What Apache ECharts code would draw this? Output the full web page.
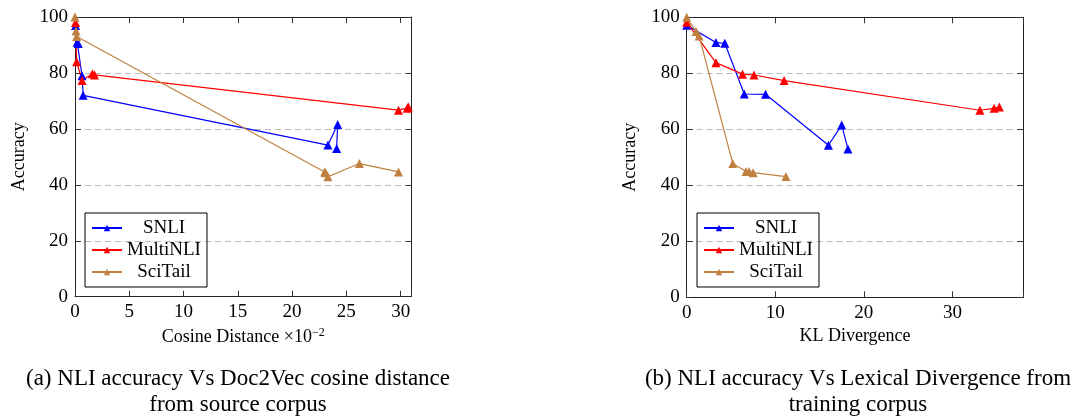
<!DOCTYPE html>
<html>
<head>
<meta charset="utf-8">
<script src="https://cdn.jsdelivr.net/npm/echarts@6/dist/echarts.min.js"></script>
<style>
html,body{margin:0;padding:0;background:#fff;}
#c{width:1082px;height:416px;}
</style>
</head>
<body>
<div id="c"></div>
<script>
// ---- data: left panel (cosine distance x10^-2) ----
const seriesNames = ['SNLI', 'MultiNLI', 'SciTail'];
const snliCos      = [0.05, 0.2, 0.3, 0.65, 0.75, 23.3, 24.2, 24.1];
const snliCosAcc   = [97, 91, 90.5, 79, 72, 54.2, 61.6, 53];
const mnliCos      = [0.05, 0.15, 0.65, 1.6, 1.8, 29.8, 30.6, 30.7];
const mnliCosAcc   = [98, 84, 77.3, 79.7, 79.3, 66.7, 67.4, 67.9];
const sciCos       = [0, 0.1, 0.15, 23.0, 23.1, 23.3, 26.2, 29.8];
const sciCosAcc    = [100, 95, 93, 44.6, 44.3, 42.9, 47.6, 44.6];

// ---- data: right panel (KL divergence) ----
const snliKl       = [0, 3.3, 4.3, 6.5, 8.9, 16.0, 17.5, 18.2];
const snliKlAcc    = [97.2, 91, 90.7, 72.6, 72.5, 54.3, 61.5, 53];
const mnliKl       = [0, 3.3, 6.3, 7.6, 11.0, 33.1, 34.7, 35.3];
const mnliKlAcc    = [98.2, 83.8, 79.7, 79.4, 77.4, 66.8, 67.5, 68.0];
const sciKl        = [0, 1.05, 1.4, 5.2, 6.7, 7.05, 7.5, 11.2];
const sciKlAcc     = [100, 94.9, 93.3, 47.8, 44.9, 44.9, 44.5, 43.1];

// ---- axis ticks ----
const cosTicks = [0, 5, 10, 15, 20, 25, 30];
const klTicks  = [0, 10, 20, 30];
const accTicks = [0, 20, 40, 60, 80, 100];

const colors = ['#0000ff', '#ff0000', '#bf8040'];
const FONT = 'Liberation Serif';

function zip(xs, ys) { return xs.map((x, i) => [x, ys[i]]); }

const chart = echarts.init(document.getElementById('c'), null, {renderer: 'canvas'});

function xAxes(gridIndex, max, interval, ticks, name) {
  return [
    {
      type: 'value', gridIndex: gridIndex, min: 0, max: max, interval: interval,
      position: 'bottom',
      name: name, nameLocation: 'middle', nameGap: 30,
      nameTextStyle: {fontFamily: FONT, fontSize: 18, color: '#000',
        rich: {sup: {fontFamily: FONT, fontSize: 12, verticalAlign: 'top', padding: [0,0,10,0], color:'#000'}}},
      axisLine: {show: true, onZero: false, lineStyle: {color: '#222', width: 1}},
      axisTick: {show: true, inside: true, length: 6, lineStyle: {color: '#333'}},
      axisLabel: {fontFamily: FONT, fontSize: 19, color: '#000', margin: 6,
        formatter: v => ticks.indexOf(v) >= 0 ? String(v) : ''},
      splitLine: {show: false}
    },
    {
      type: 'value', gridIndex: gridIndex, min: 0, max: max, interval: interval,
      position: 'top',
      axisLine: {show: true, onZero: false, lineStyle: {color: '#222', width: 1}},
      axisTick: {show: true, inside: true, length: 6, lineStyle: {color: '#333'}},
      axisLabel: {show: false},
      splitLine: {show: false}
    }
  ];
}

function yAxes(gridIndex) {
  return [
    {
      type: 'value', gridIndex: gridIndex, min: 0, max: 100, interval: 20,
      position: 'left',
      name: 'Accuracy', nameLocation: 'middle', nameGap: 47, nameRotate: 90,
      nameTextStyle: {fontFamily: FONT, fontSize: 18, color: '#000'},
      axisLine: {show: true, onZero: false, lineStyle: {color: '#222', width: 1}},
      axisTick: {show: true, inside: true, length: 6, lineStyle: {color: '#333'}},
      axisLabel: {fontFamily: FONT, fontSize: 19, color: '#000', margin: 7,
        formatter: v => accTicks.indexOf(v) >= 0 ? String(v) : ''},
      splitLine: {show: true, lineStyle: {color: '#bbbbbb', type: [6, 4], width: 1}}
    },
    {
      type: 'value', gridIndex: gridIndex, min: 0, max: 100, interval: 20,
      position: 'right',
      axisLine: {show: true, onZero: false, lineStyle: {color: '#222', width: 1}},
      axisTick: {show: true, inside: true, length: 6, lineStyle: {color: '#333'}},
      axisLabel: {show: false},
      splitLine: {show: false}
    }
  ];
}

function mkSeries(name, color, data, xi, yi) {
  return {
    type: 'line', name: name, data: data,
    xAxisIndex: xi, yAxisIndex: yi,
    symbol: 'triangle', symbolSize: 9,
    lineStyle: {color: color, width: 1.2},
    itemStyle: {color: color},
    animation: false
  };
}

function legend(left, top) {
  return {
    left: left, top: top, orient: 'vertical',
    data: seriesNames,
    borderColor: '#000', borderWidth: 1,
    padding: [4, 6, 4, 6], itemGap: 0,
    itemWidth: 30, itemHeight: 8,
    textStyle: {fontFamily: FONT, fontSize: 19, color: '#000', lineHeight: 22,
      rich: {c: {fontFamily: FONT, fontSize: 19, width: 74, align: 'center', lineHeight: 22, color: '#000'}}},
    formatter: n => '{c|' + n + '}',
    selectedMode: false
  };
}

const capStyle = {fontFamily: FONT, fontSize: 23, fontWeight: 'normal', color: '#000', lineHeight: 26};

const option = {
  backgroundColor: '#fff',
  animation: false,
  grid: [
    {left: 75, top: 17, width: 336.5, height: 279.7, containLabel: false},
    {left: 686.7, top: 17.3, width: 336.6, height: 280, containLabel: false}
  ],
  xAxis: [
    ...xAxes(0, 31, 5, cosTicks, 'Cosine Distance ×10{sup|−2}'),
    ...xAxes(1, 38, 10, klTicks, 'KL Divergence')
  ],
  yAxis: [
    ...yAxes(0),
    ...yAxes(1)
  ],
  legend: [legend(85, 213), legend(697, 213)],
  title: [
    {text: '(a) NLI accuracy Vs Doc2Vec cosine distance\nfrom source corpus',
     left: 238, top: 366, textAlign: 'center', padding: 0,
     textStyle: capStyle},
    {text: '(b) NLI accuracy Vs Lexical Divergence from\ntraining corpus',
     left: 858, top: 366, textAlign: 'center', padding: 0,
     textStyle: capStyle}
  ],
  series: [
    mkSeries('SNLI', colors[0], zip(snliCos, snliCosAcc), 0, 0),
    mkSeries('MultiNLI', colors[1], zip(mnliCos, mnliCosAcc), 0, 0),
    mkSeries('SciTail', colors[2], zip(sciCos, sciCosAcc), 0, 0),
    mkSeries('SNLI', colors[0], zip(snliKl, snliKlAcc), 2, 2),
    mkSeries('MultiNLI', colors[1], zip(mnliKl, mnliKlAcc), 2, 2),
    mkSeries('SciTail', colors[2], zip(sciKl, sciKlAcc), 2, 2)
  ]
};
chart.setOption(option);
</script>
</body>
</html>
